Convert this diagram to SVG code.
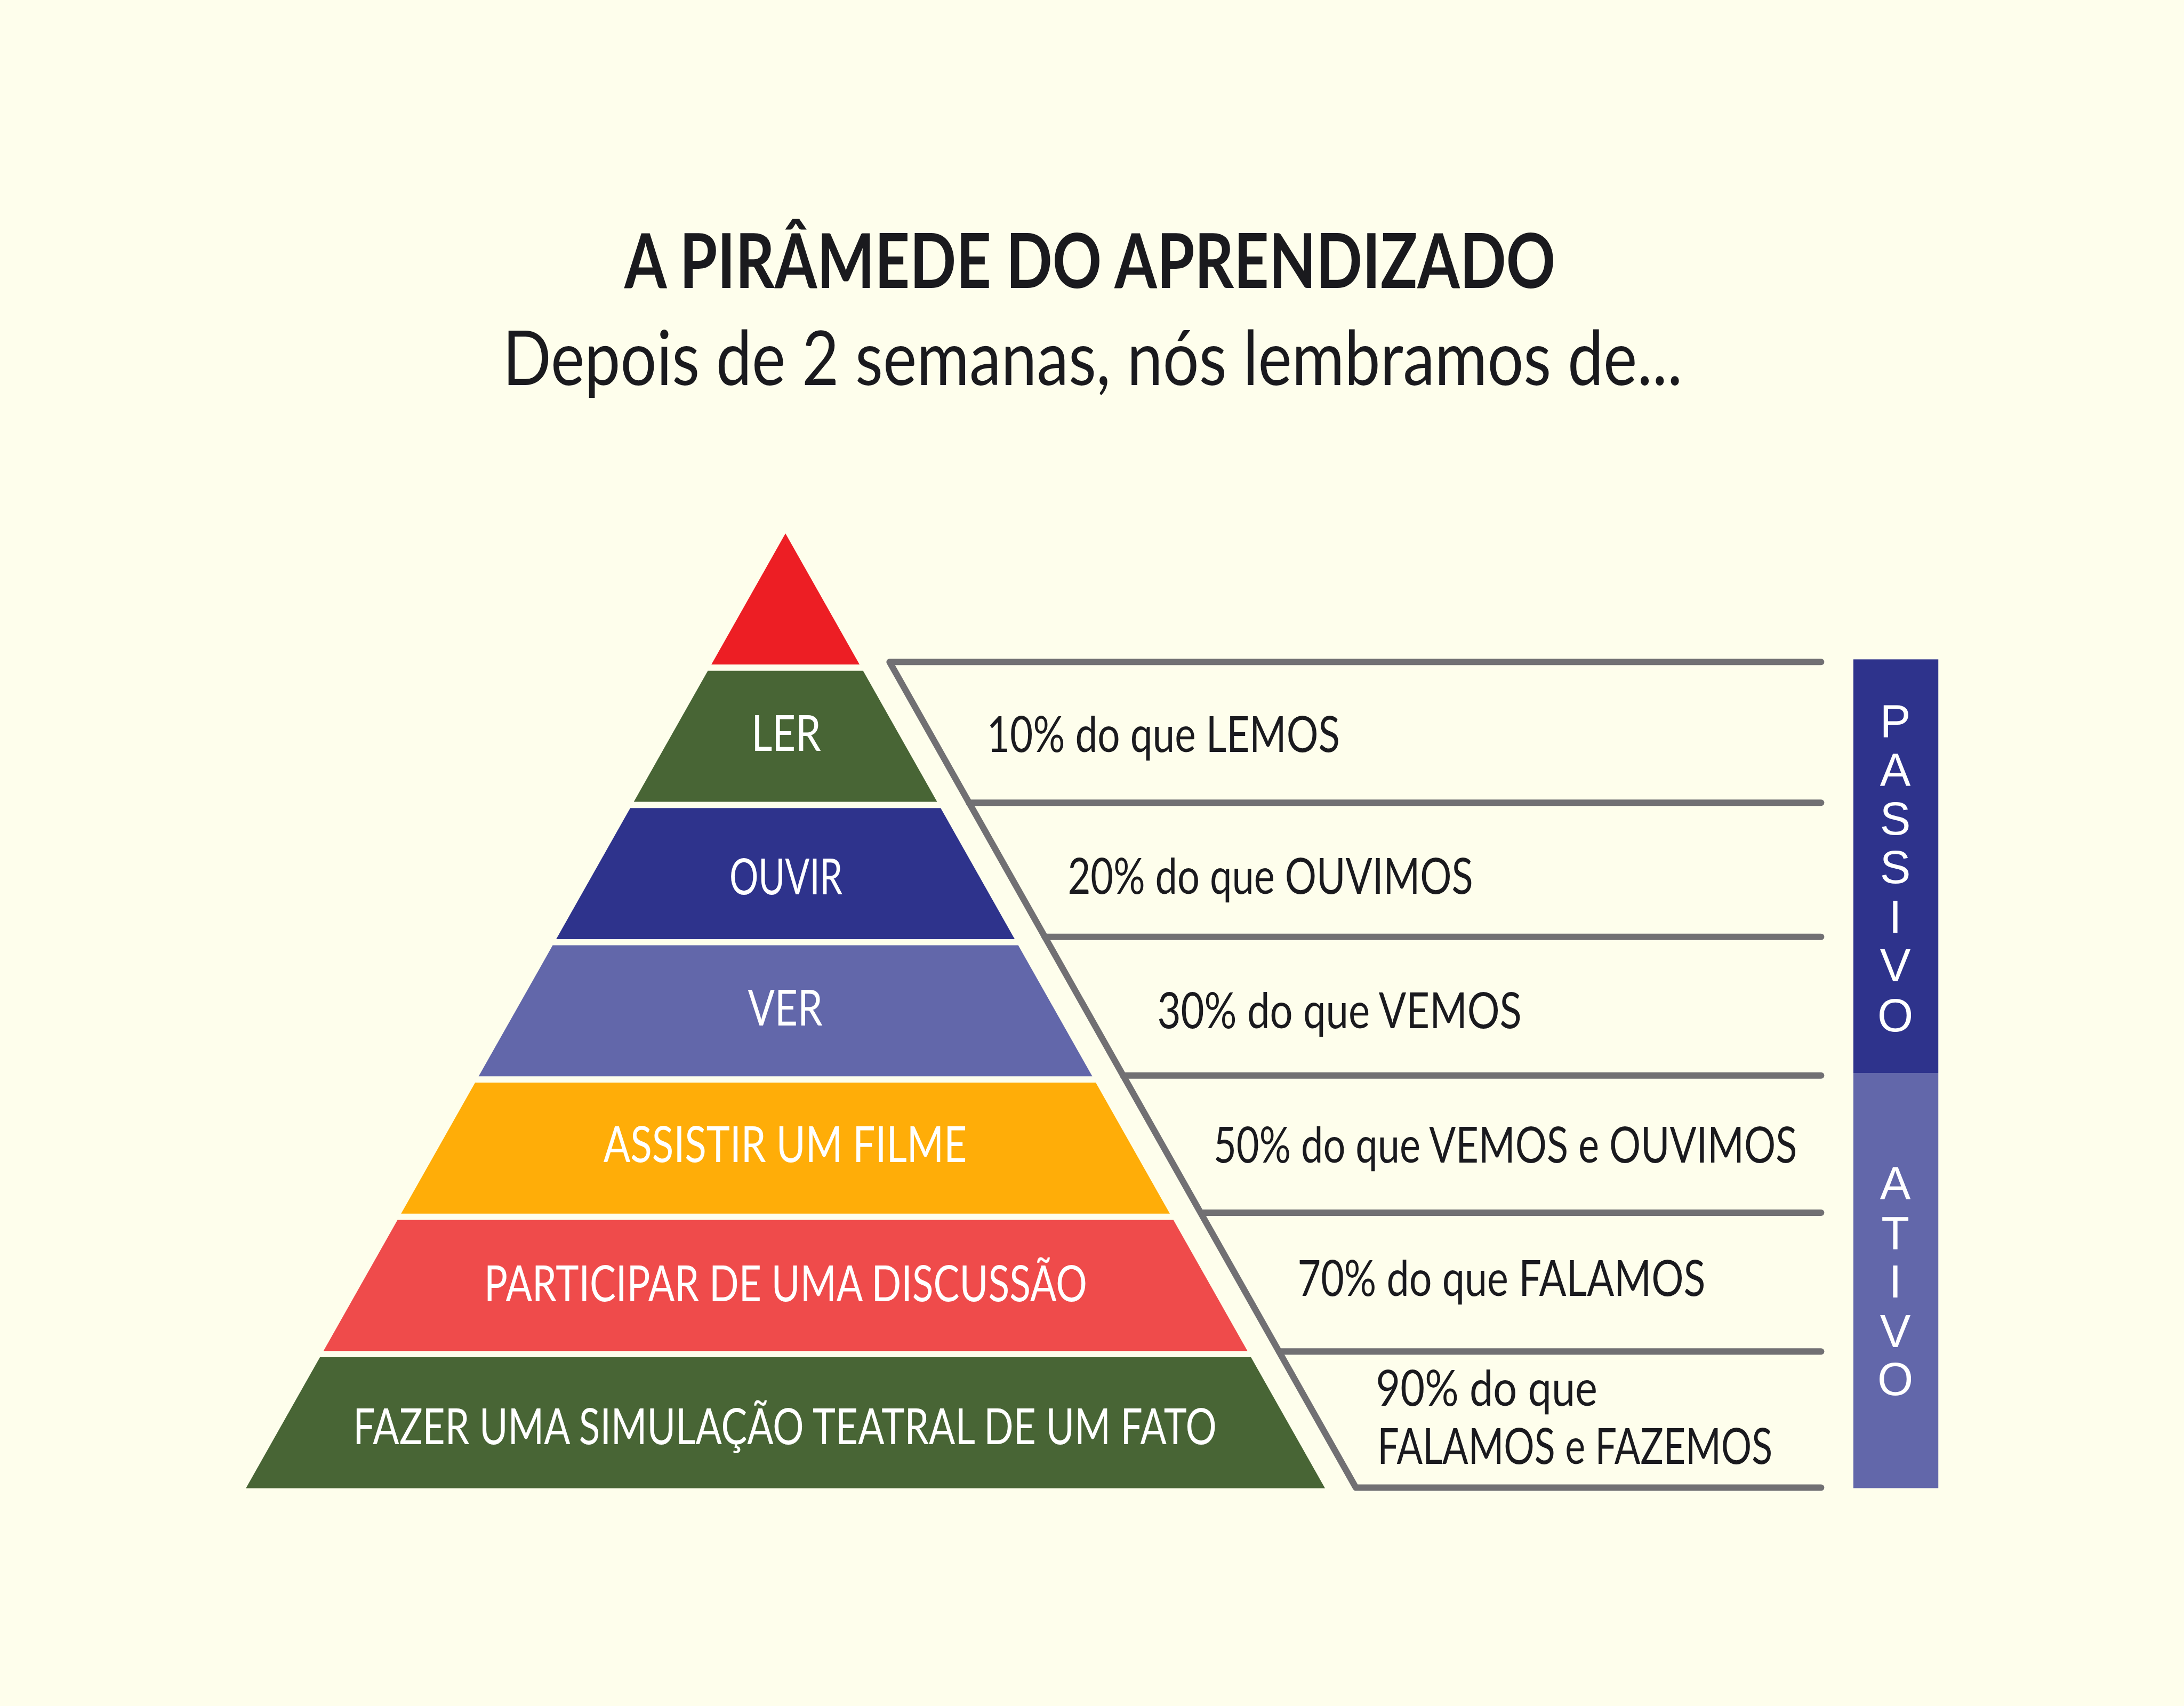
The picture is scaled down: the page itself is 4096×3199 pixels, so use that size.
<svg xmlns="http://www.w3.org/2000/svg" width="4096" height="3199" viewBox="0 0 4096 3199">
<style>
.lbl{font-family:Lato,"Open Sans","Liberation Sans",sans-serif;font-size:96px;fill:#ffffff}
.txt{font-family:Lato,"Open Sans","Liberation Sans",sans-serif;font-size:96px;fill:#1a1a1e}
.side{font-family:"Liberation Sans","DejaVu Sans",sans-serif;font-size:90px;fill:#ffffff;text-anchor:middle}
.conn{fill:none;stroke:#717073;stroke-width:12.5;stroke-linecap:round;stroke-linejoin:round}
</style>
<rect width="4096" height="3199" fill="#fefeec"/>
<g transform="scale(0.959925)">
<g id="title">
<text x="1220" y="563" textLength="1819" lengthAdjust="spacingAndGlyphs" style="font-family:Lato,'Open Sans','Liberation Sans',sans-serif;font-size:148px;font-weight:bold;fill:#1a1a1e">A PIRÂMEDE DO APRENDIZADO</text>
<text x="982" y="752" textLength="2305" lengthAdjust="spacingAndGlyphs" style="font-family:Lato,'Open Sans','Liberation Sans',sans-serif;font-size:148px;fill:#1a1a1e">Depois de 2 semanas, nós lembramos de...</text>
</g>
<g id="layer0"><polygon points="1534.6,1042 1679.3,1298 1389.9,1298" fill="#ed1e24"/></g>
<g id="layer1"><polygon points="1383.0,1310.2 1686.2,1310.2 1830.9,1566.2 1238.3,1566.2" fill="#486535"/>
<text class="lbl" x="1468" y="1467" textLength="136" lengthAdjust="spacingAndGlyphs">LER</text></g>
<g id="layer2"><polygon points="1231.4,1578.4 1837.8,1578.4 1982.5,1834.4 1086.7,1834.4" fill="#2e338c"/>
<text class="lbl" x="1425" y="1747" textLength="221" lengthAdjust="spacingAndGlyphs">OUVIR</text></g>
<g id="layer3"><polygon points="1079.8,1846.6 1989.4,1846.6 2134.1,2102.6 935.1,2102.6" fill="#6267aa"/>
<text class="lbl" x="1461" y="2003" textLength="146" lengthAdjust="spacingAndGlyphs">VER</text></g>
<g id="layer4"><polygon points="928.3,2114.8 2140.9,2114.8 2285.6,2370.8 783.6,2370.8" fill="#ffad08"/>
<text class="lbl" x="1179" y="2270" textLength="710" lengthAdjust="spacingAndGlyphs">ASSISTIR UM FILME</text></g>
<g id="layer5"><polygon points="776.7,2383 2292.5,2383 2437.2,2639 632.0,2639" fill="#ef4b4b"/>
<text class="lbl" x="946" y="2542" textLength="1178" lengthAdjust="spacingAndGlyphs">PARTICIPAR DE UMA DISCUSSÃO</text></g>
<g id="layer6"><polygon points="625.1,2651.2 2444.1,2651.2 2588.8,2907.2 480.4,2907.2" fill="#486535"/>
<text class="lbl" x="690" y="2821" textLength="1687" lengthAdjust="spacingAndGlyphs">FAZER UMA SIMULAÇÃO TEATRAL DE UM FATO</text></g>
<g id="connectors">
<path class="conn" d="M3558,1293 H1738 L2649,2906 H3558"/>
<path class="conn" d="M1893,1568 H3558"/>
<path class="conn" d="M2041,1830 H3558"/>
<path class="conn" d="M2194,2101 H3558"/>
<path class="conn" d="M2346,2369 H3558"/>
<path class="conn" d="M2499,2640 H3558"/>
</g>
<g id="r10"><text class="txt" x="1928" y="1469" textLength="690" lengthAdjust="spacingAndGlyphs">10% do que LEMOS</text></g>
<g id="r20"><text class="txt" x="2086" y="1746" textLength="792" lengthAdjust="spacingAndGlyphs">20% do que OUVIMOS</text></g>
<g id="r30"><text class="txt" x="2261" y="2009" textLength="712" lengthAdjust="spacingAndGlyphs">30% do que VEMOS</text></g>
<g id="r50"><text class="txt" x="2371" y="2271" textLength="1140" lengthAdjust="spacingAndGlyphs">50% do que VEMOS e OUVIMOS</text></g>
<g id="r70"><text class="txt" x="2535" y="2531" textLength="797" lengthAdjust="spacingAndGlyphs">70% do que FALAMOS</text></g>
<g id="r90"><text class="txt" x="2688" y="2746" textLength="433" lengthAdjust="spacingAndGlyphs">90% do que</text>
<text class="txt" x="2691" y="2860" textLength="772" lengthAdjust="spacingAndGlyphs">FALAMOS e FAZEMOS</text></g>
<g id="passivo"><rect x="3621" y="1288" width="166" height="808" fill="#2e338c"/>
<text class="side"><tspan x="3703" y="1440">P</tspan><tspan x="3703" y="1536">A</tspan><tspan x="3703" y="1630">S</tspan><tspan x="3703" y="1725">S</tspan><tspan x="3703" y="1822">I</tspan><tspan x="3703" y="1917">V</tspan><tspan x="3703" y="2015">O</tspan></text>
</g>
<g id="ativo"><rect x="3621" y="2096" width="166" height="811" fill="#6267aa"/>
<text class="side"><tspan x="3703" y="2343">A</tspan><tspan x="3703" y="2440">T</tspan><tspan x="3703" y="2535">I</tspan><tspan x="3703" y="2631">V</tspan><tspan x="3703" y="2725">O</tspan></text>
</g>
</g>
</svg>
